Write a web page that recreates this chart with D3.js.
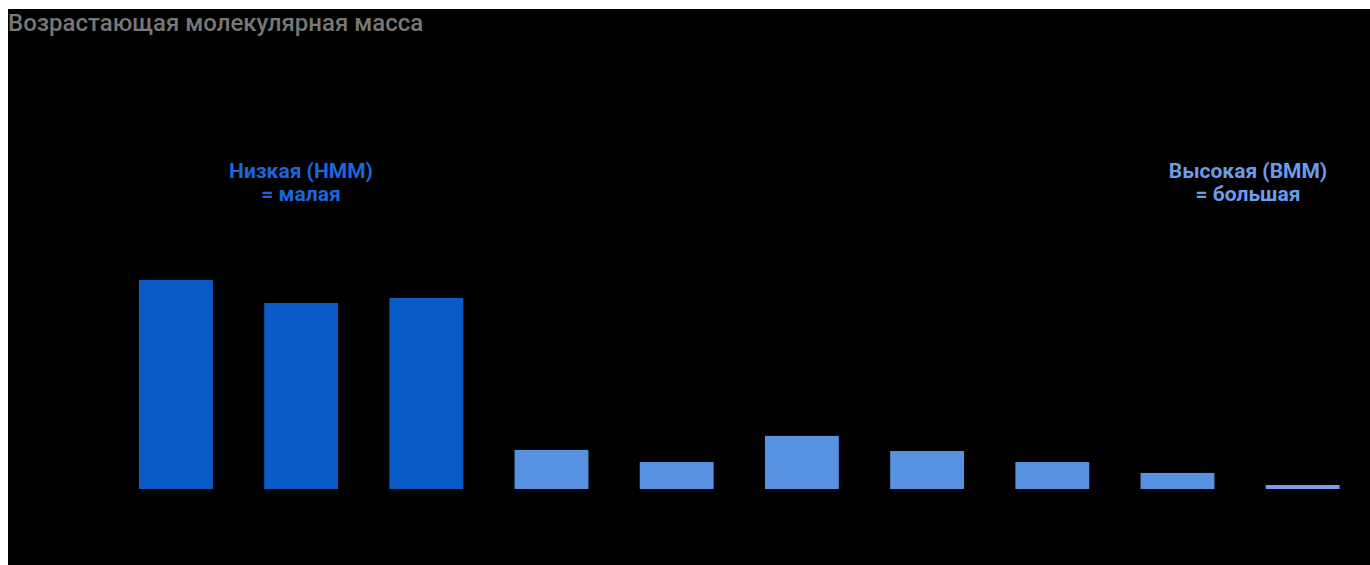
<!DOCTYPE html>
<html>
<head>
<meta charset="utf-8">
<script src="https://cdn.jsdelivr.net/npm/d3@7"></script>
<style>
  html, body { margin: 0; padding: 0; background: #fff; overflow: hidden; }
  text { font-family: Roboto, "Noto Sans", sans-serif; }
</style>
</head>
<body>
<div id="chart"></div>
<script>
// ── Données ─────────────────────────────────────────────
const fractions = ['f1', 'f2', 'f3', 'f4', 'f5', 'f6', 'f7', 'f8', 'f9', 'f10'];
const amounts   = [100, 89, 91.4, 18.7, 12.9, 25.4, 18.2, 12.9, 7.7, 1.9];
const groups    = ['low', 'low', 'low', 'high', 'high', 'high', 'high', 'high', 'high', 'high'];

const title      = 'Возрастающая молекулярная масса';
const lowLabel   = ['Низкая (НММ)', '= малая'];
const highLabel  = ['Высокая (ВММ)', '= большая'];

const COLORS = { low: '#0b5bc6', high: '#5891e0' };

const W = 1370, H = 565;

const svg = d3.select('#chart').append('svg')
  .attr('width', W).attr('height', H);

svg.append('rect').attr('x', 8).attr('y', 9)
  .attr('width', W - 8).attr('height', H - 9).attr('fill', '#000');

const x = d3.scaleBand().domain(fractions)
  .range([113.3, 1365.3]).paddingInner(0.41).paddingOuter(0.205);
const y = d3.scaleLinear().domain([0, 100]).range([489, 280]);

const data = fractions.map((f, i) => ({ f, v: amounts[i], g: groups[i] }));

svg.selectAll('.bar')
  .data(data).join('rect')
  .attr('class', 'bar')
  .attr('x', d => x(d.f))
  .attr('y', d => y(d.v))
  .attr('width', x.bandwidth())
  .attr('height', d => y(0) - y(d.v))
  .attr('fill', (d, i) => i === fractions.length - 1 ? '#7a9ee6' : COLORS[d.g]);

// titre
svg.append('text')
  .attr('x', 8).attr('y', 31)
  .attr('font-size', 24).attr('font-weight', 500)
  .attr('fill', '#777')
  .text(title);

// annotations
function label(lines, cx, color) {
  const t = svg.append('text')
    .attr('text-anchor', 'middle')
    .attr('font-size', 21).attr('font-weight', 700)
    .attr('fill', color);
  lines.forEach((l, i) => t.append('tspan')
    .attr('x', cx).attr('y', 178 + i * 23).text(l));
}
label(lowLabel, 301, '#1c66dc');
label(highLabel, 1248, '#6a9de8');
</script>
</body>
</html>
